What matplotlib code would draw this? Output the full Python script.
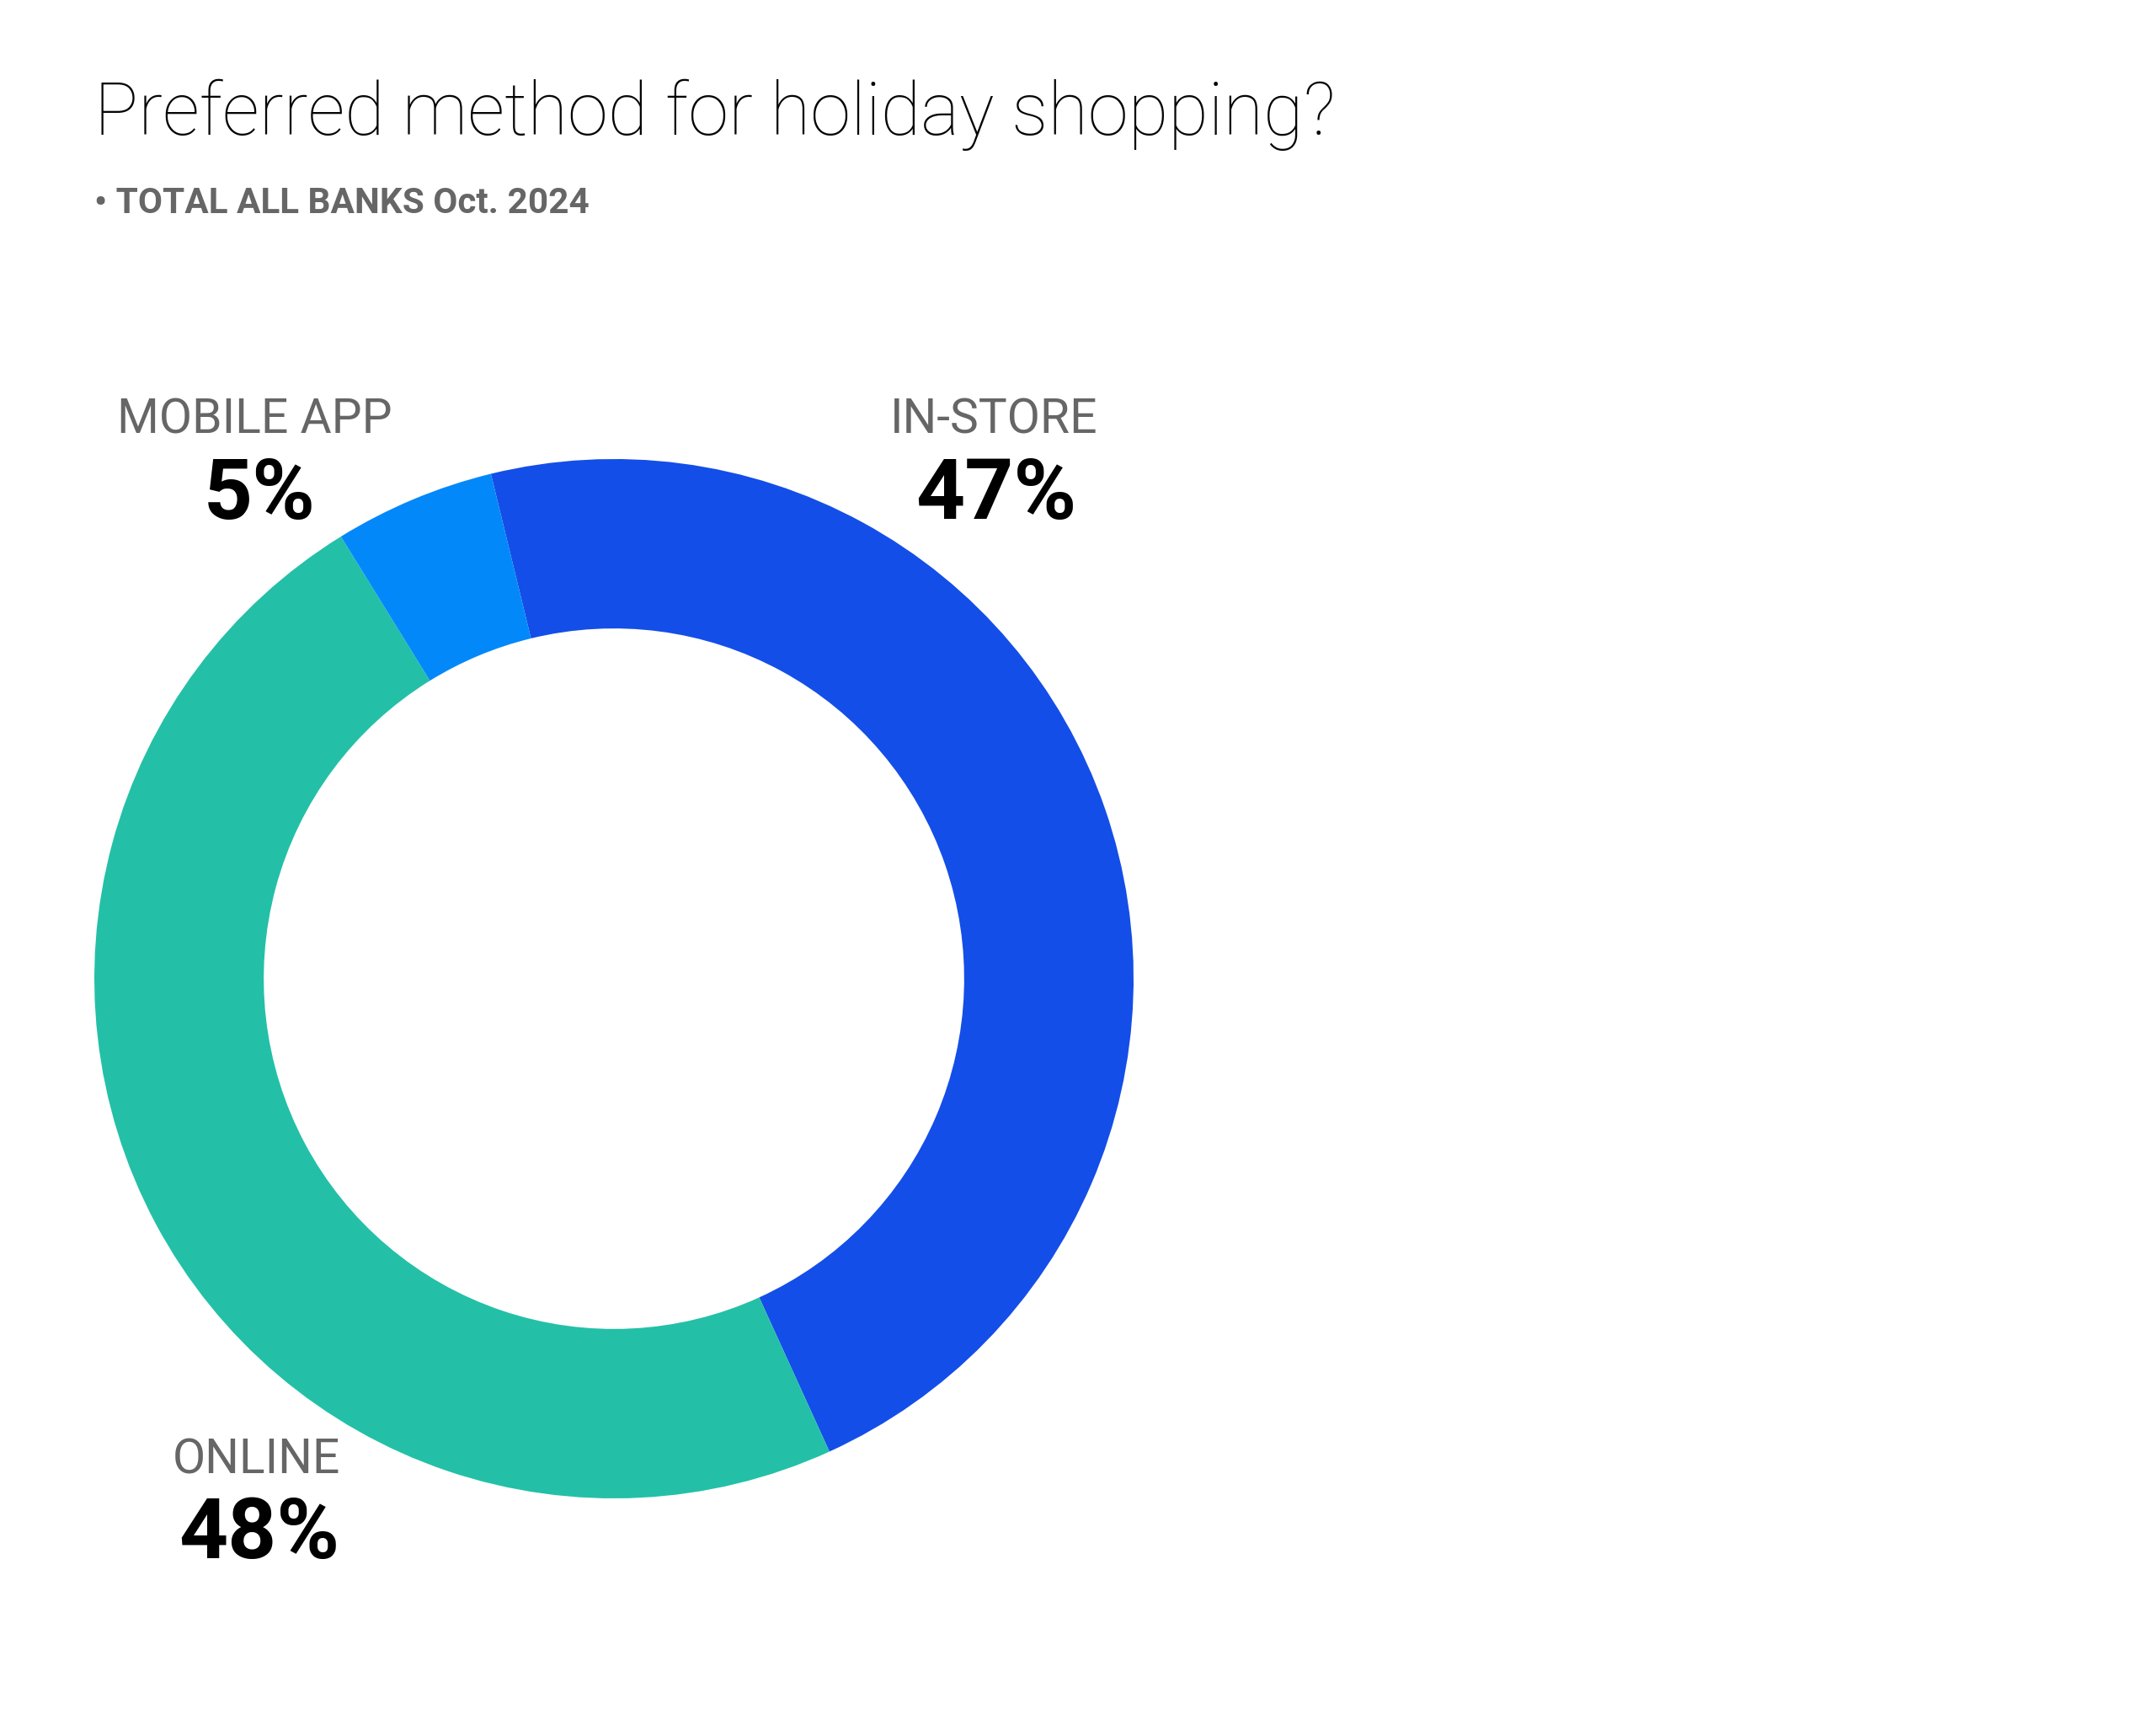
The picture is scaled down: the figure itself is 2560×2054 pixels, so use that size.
import matplotlib
matplotlib.use("Agg")
import matplotlib.pyplot as plt

categories = ["IN-STORE", "ONLINE", "MOBILE APP"]
values = [47, 48, 5]
colors = ["#144EE8", "#23C0A7", "#0388FA"]
title = "Preferred method for holiday shopping?"
subtitle = "• TOTAL ALL BANKS Oct. 2024"

W, H = 2560, 2054
DPI = 100
fig = plt.figure(figsize=(W / DPI, H / DPI), dpi=DPI)
fig.patch.set_facecolor("white")

def fx(px):
    return px / W

def fy(py):
    return 1 - py / H

cx, cy, R = 729, 1162, 617
ax = fig.add_axes([fx(cx - R), fy(cy + R), 2 * R / W, 2 * R / H])
ax.pie(values, colors=colors, startangle=103.7, counterclock=False,
       radius=1, wedgeprops=dict(width=0.326, edgecolor="none", linewidth=0))
ax.set_xlim(-1, 1)
ax.set_ylim(-1, 1)
ax.set_aspect("equal")
ax.axis("off")

font = ["Roboto", "DejaVu Sans"]
fig.text(fx(112), fy(160), title, fontsize=62.5, fontweight="light", family=font,
         color="#050505", ha="left", va="baseline")
fig.text(fx(112), fy(253), subtitle, fontsize=30.4, fontweight="bold", family=font,
         color="#666666", ha="left", va="baseline")

label_pos = {
    "IN-STORE": (1180, 515, 616),
    "ONLINE": (304, 1749, 1850),
    "MOBILE APP": (302, 515, 616),
}
value_dx = {"IN-STORE": 3, "ONLINE": 4, "MOBILE APP": 6}
for cat, val in zip(categories, values):
    x, yl, yv = label_pos[cat]
    fig.text(fx(x), fy(yl), cat, fontsize=41, family=font, color="#666666",
             ha="center", va="baseline")
    fig.text(fx(x + value_dx[cat]), fy(yv), f"{val}%", fontsize=73, fontweight="bold",
             family=font, color="#000000", ha="center", va="baseline")

fig.savefig("out.png", dpi=DPI, facecolor="white")
